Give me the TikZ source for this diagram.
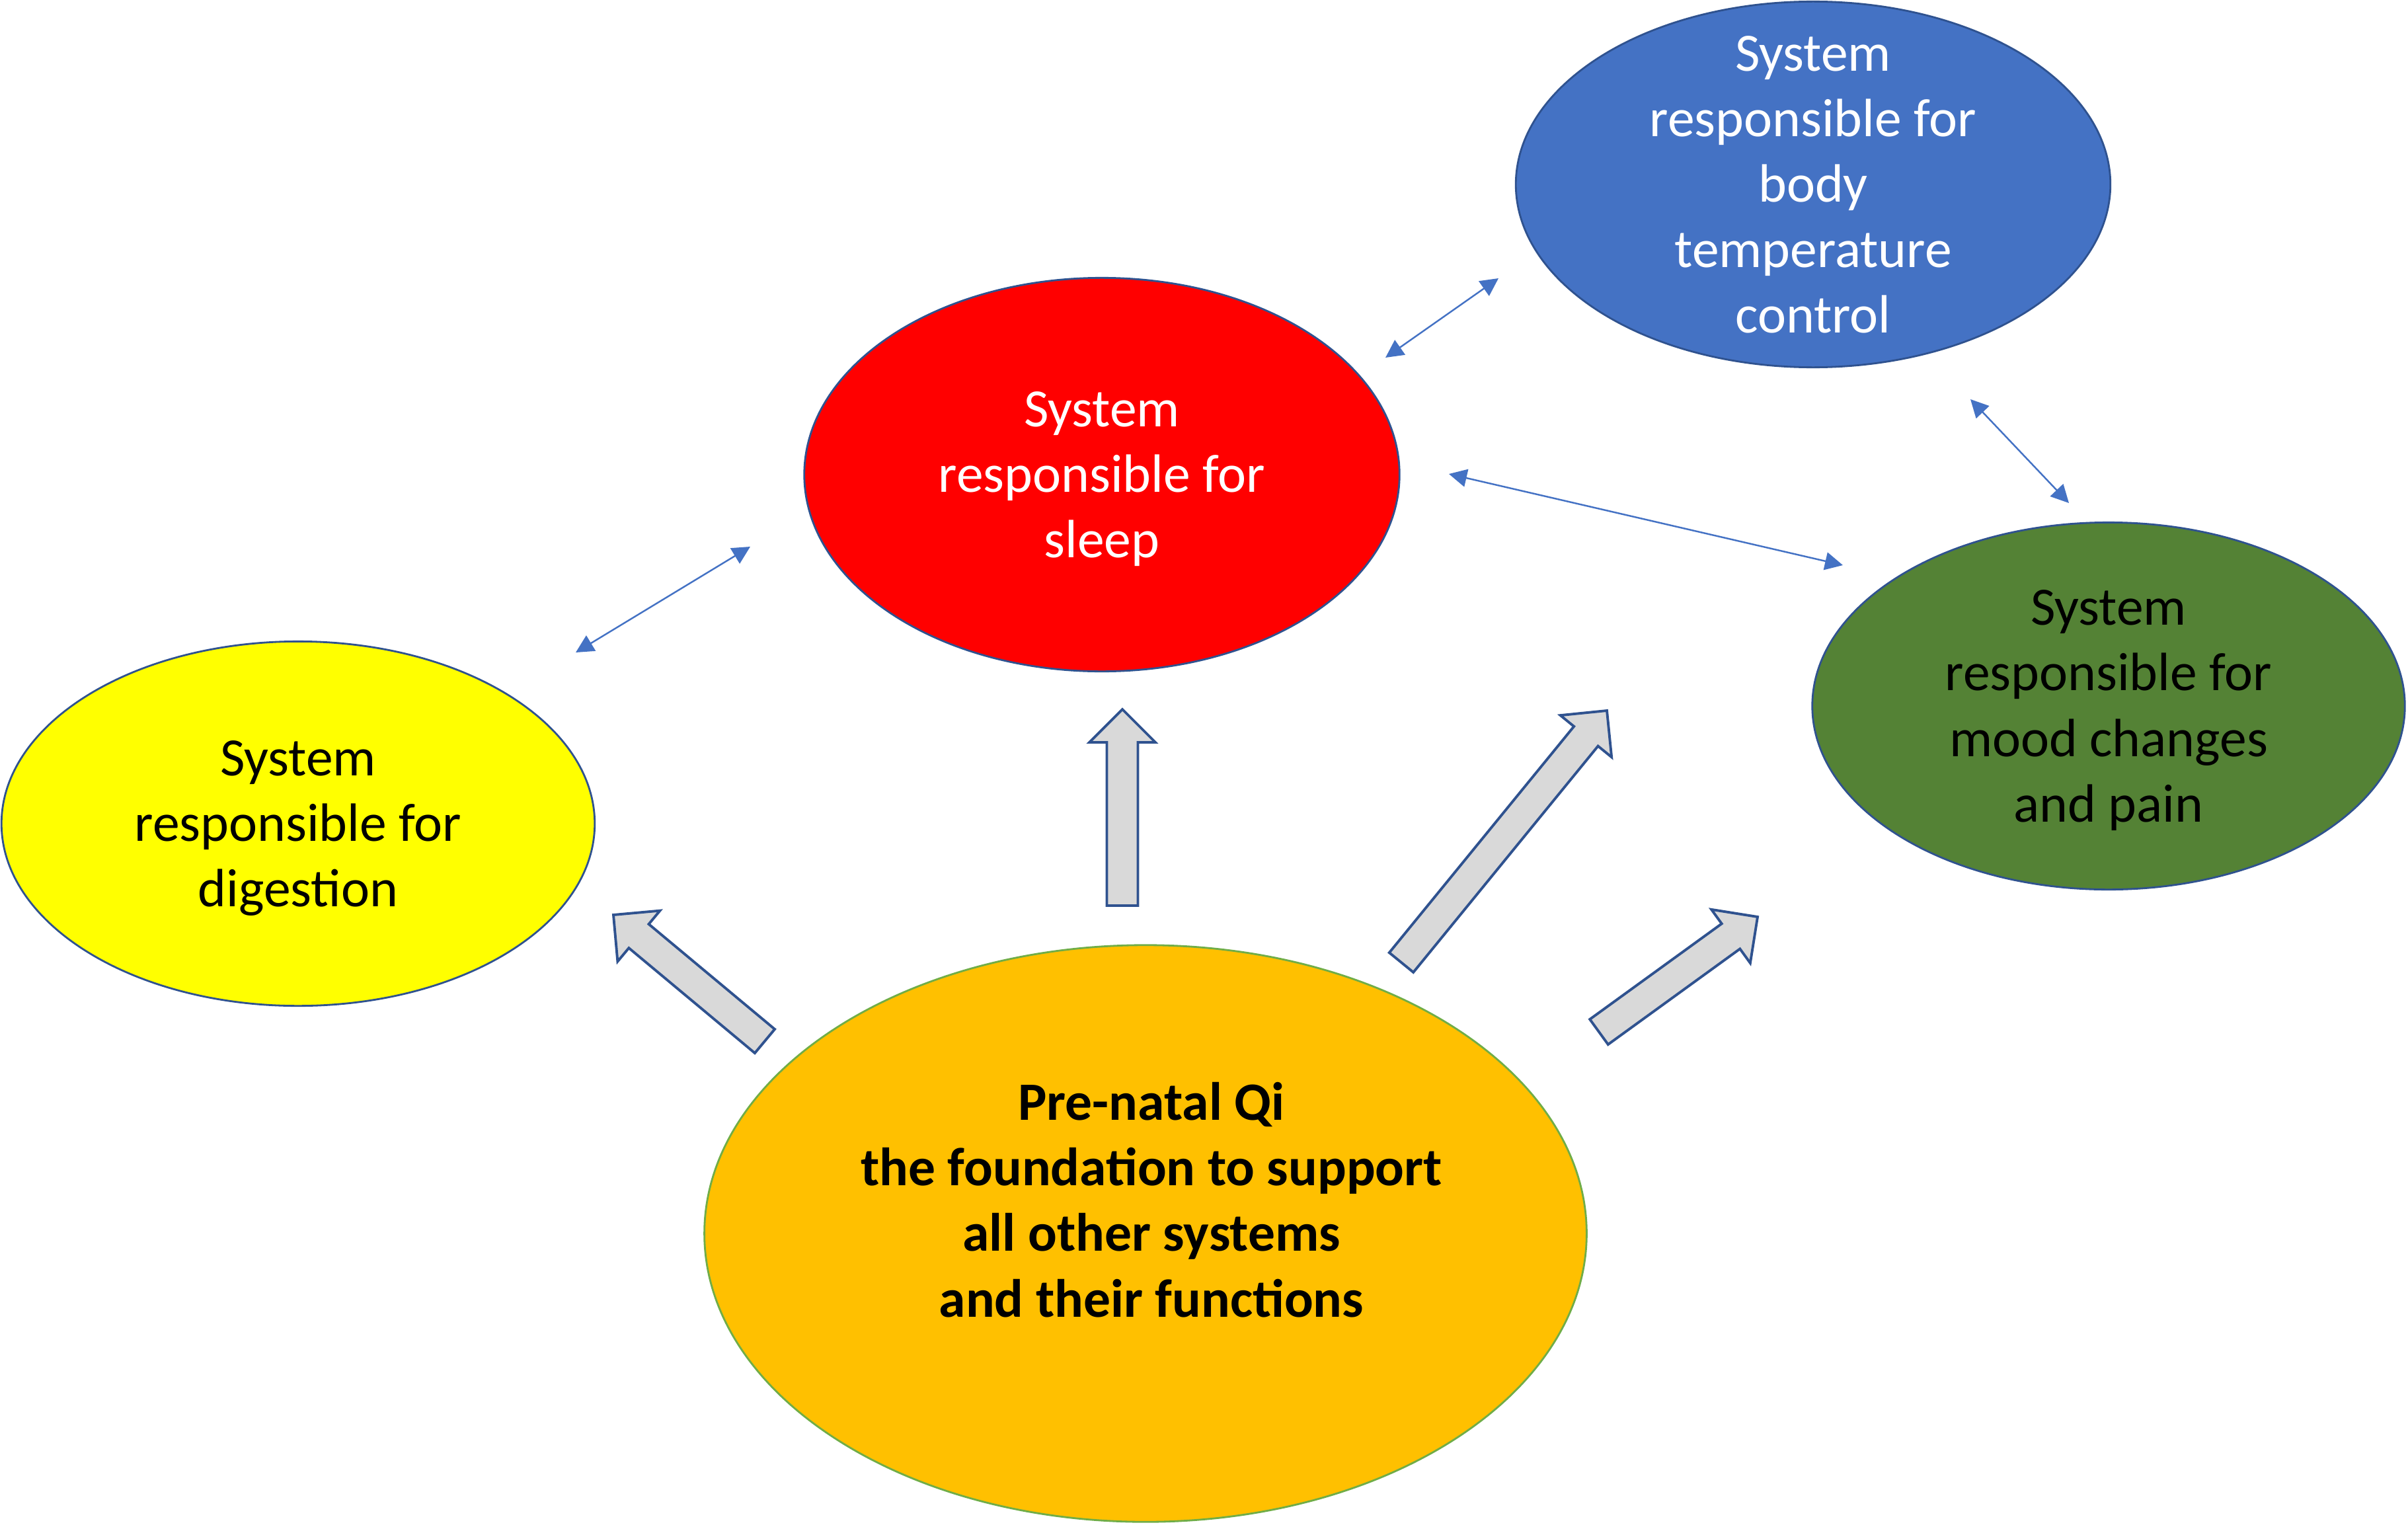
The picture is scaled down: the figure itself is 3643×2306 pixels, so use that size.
\documentclass[tikz,border=0pt]{standalone}
\usepackage{fontspec}
\setmainfont{Carlito}
\usetikzlibrary{shapes.geometric,arrows.meta,calc}

\definecolor{outline}{HTML}{2F528F}
\definecolor{sleepred}{HTML}{FF0000}
\definecolor{tempblue}{HTML}{4472C4}
\definecolor{digyellow}{HTML}{FFFF00}
\definecolor{moodgreen}{HTML}{548235}
\definecolor{qiorange}{HTML}{FFC000}
\definecolor{qiedge}{HTML}{70AD47}
\definecolor{arrowgrey}{HTML}{D9D9D9}

% block arrow from tail #1 to tip #2
\newcommand{\bigarrow}[2]{%
  \coordinate (#2-base) at ($(#2)!0.5cm!(#1)$);
  \draw[fatarrow] ($(#1)!0.235cm!90:(#2)$) -- ($(#2-base)!0.235cm!90:(#2)$)
    -- ($(#2-base)!0.5cm!90:(#2)$) -- (#2) -- ($(#2-base)!0.5cm!-90:(#2)$)
    -- ($(#2-base)!0.235cm!-90:(#2)$) -- ($(#1)!0.235cm!-90:(#2)$) -- cycle;}

\begin{document}
\begin{tikzpicture}[x=0.01cm, y=-0.01cm,
    every node/.style={font=\fontsize{23.2}{28.2}\selectfont},
    system/.style={ellipse, draw=outline, line width=0.8pt, inner sep=0pt, text depth=0pt, align=center},
    fatarrow/.style={draw=outline, fill=arrowgrey, line width=1.1pt, line join=miter},
    link/.style={draw=tempblue, line width=0.7pt,
      {Triangle[length=0.27cm,width=0.27cm]}-{Triangle[length=0.27cm,width=0.27cm]}}]

    \useasboundingbox (0,0) rectangle (3643,2306);

    \node[system, fill=sleepred, text=white, minimum width=9cm, minimum height=5.95cm] (sleep) at (1667,718) {System\\responsible for\\sleep};
    \node[system, fill=tempblue, text=white, inner ysep=-0.6cm, minimum width=8.99cm, minimum height=5.53cm] (temp) at (2743,279) {System\\responsible for\\body\\temperature\\control};
    \node[system, fill=digyellow, minimum width=8.97cm, minimum height=5.51cm] (digest) at (451,1246) {System\\responsible for\\digestion};
    \node[system, fill=moodgreen, minimum width=8.96cm, minimum height=5.55cm] (mood) at (3190,1068) {System\\responsible for\\mood changes\\and pain};
    \node[system, draw=qiedge, fill=qiorange, minimum width=13.34cm, minimum height=8.72cm] (qi) at (1733,1866) {};
    \node[font=\fontsize{23.2}{28.2}\selectfont\bfseries, align=center] (qitext) at (1742,1815) {Pre-natal Qi\\the foundation to support\\all other systems\\and their functions};

    % links between the systems
    \coordinate (dsA) at (871,987);   \coordinate (dsB) at (1135,827);
    \coordinate (stA) at (2096,541);  \coordinate (stB) at (2267,421);
    \coordinate (smA) at (2192,717);  \coordinate (smB) at (2788,855);
    \coordinate (tmA) at (2981,604);  \coordinate (tmB) at (3130,761);
    \draw[link] (dsA) -- (dsB);
    \draw[link] (stA) -- (stB);
    \draw[link] (smA) -- (smB);
    \draw[link] (tmA) -- (tmB);

    % support arrows out of the pre-natal Qi
    \coordinate (qiDig) at (1157,1575);   \coordinate (digTip) at (928,1384);
    \coordinate (qiSleep) at (1698,1370); \coordinate (sleepTip) at (1698,1073);
    \coordinate (qiTemp) at (2120,1456);  \coordinate (tempTip) at (2431,1075);
    \coordinate (qiMood) at (2419,1561);  \coordinate (moodTip) at (2659,1387);
    \bigarrow{qiDig}{digTip}
    \bigarrow{qiSleep}{sleepTip}
    \bigarrow{qiTemp}{tempTip}
    \bigarrow{qiMood}{moodTip}

\end{tikzpicture}
\end{document}
